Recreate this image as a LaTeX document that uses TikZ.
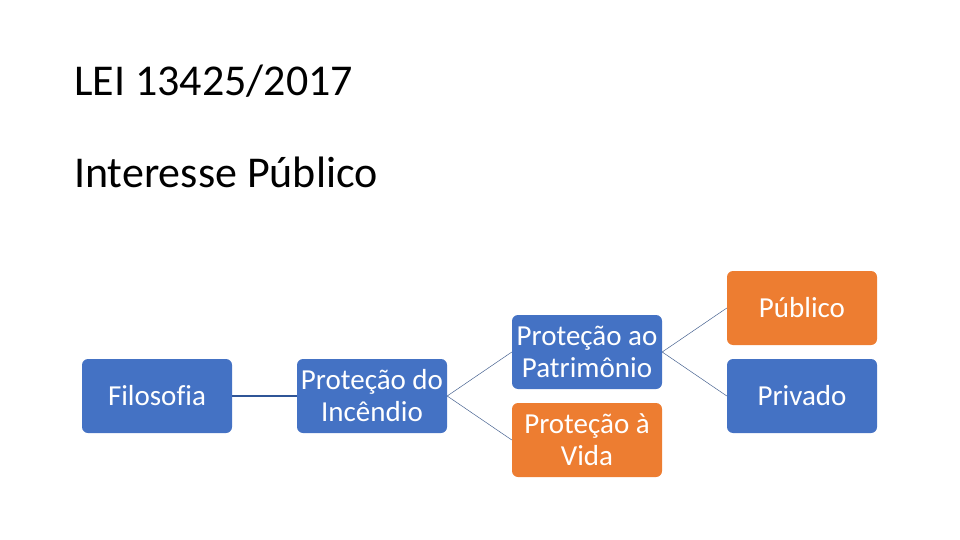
\documentclass[tikz,border=0pt]{standalone}
\usepackage{fontspec}
\setmainfont{Carlito}[Ligatures=NoCommon]
\usetikzlibrary{positioning}
\definecolor{azul}{HTML}{4472C4}
\definecolor{laranja}{HTML}{ED7D31}
\definecolor{linha}{HTML}{2F5597}
\tikzset{
    caixa/.style={rounded corners=6pt, minimum width=150pt, minimum height=74pt, inner sep=0pt,
        text=white, align=center, font=\fontsize{29}{32}\selectfont},
    caixaazul/.style={caixa, fill=azul},
    caixalaranja/.style={caixa, fill=laranja},
    ligacao/.style={draw=linha!70!gray, line width=0.5pt},
}

\begin{document}
\begin{tikzpicture}[x=1pt, y=-1pt]
\useasboundingbox (0,0) rectangle (960,540);
% titulos
\node[anchor=base west, inner sep=0pt, font=\fontsize{44}{48}\selectfont] (lei) at (74,96) {LEI 13425/2017};
\node[anchor=base west, inner sep=0pt, font=\fontsize{44}{48}\selectfont] (interesse) at (74,187) {Interesse Público};
% caixas
\node[caixaazul] (filosofia) at (157,396) {Filosofia};
\node[caixaazul] (incendio) at (372,396) {Proteção do\\Incêndio};
\node[caixaazul] (patrimonio) at (587,352) {Proteção ao\\Patrimônio};
\node[caixalaranja] (vida) at (587,440) {Proteção à\\Vida};
\node[caixalaranja] (publico) at (802,308) {Público};
\node[caixaazul] (privado) at (802,396) {Privado};
% ligacoes
\draw[linha, line width=1.5pt] (filosofia.east) -- (incendio.west);
\draw[ligacao] (incendio.east) -- (patrimonio.west);
\draw[ligacao] (incendio.east) -- (vida.west);
\draw[ligacao] (patrimonio.east) -- (publico.west);
\draw[ligacao] (patrimonio.east) -- (privado.west);
\end{tikzpicture}
\end{document}
